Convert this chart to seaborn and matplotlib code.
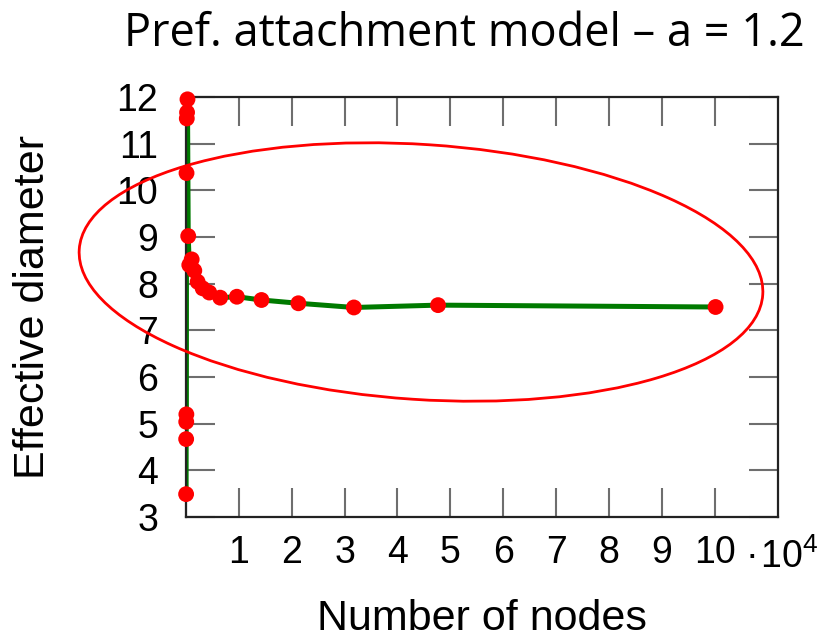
import matplotlib
matplotlib.use("Agg")
import matplotlib.pyplot as plt
from matplotlib.patches import Ellipse
import seaborn as sns
import pandas as pd

# Data
nodes = [20, 30, 45, 70, 100, 150, 200, 280, 420, 620, 1075, 1570, 2200, 3150,
         4400, 6470, 9620, 14280, 21260, 31760, 47680, 100190]
diameter = [3.49, 4.67, 5.04, 5.20, 10.37, 11.54, 11.67, 11.95, 9.02, 8.40, 8.52,
            8.28, 8.04, 7.90, 7.81, 7.70, 7.72, 7.65, 7.58, 7.49, 7.54, 7.50]
x_ticks = [0, 10000, 20000, 30000, 40000, 50000, 60000, 70000, 80000, 90000, 100000]
x_tick_labels = ["", "1", "2", "3", "4", "5", "6", "7", "8", "9", "10"]
y_ticks = [3, 4, 5, 6, 7, 8, 9, 10, 11, 12]

title = "Pref. attachment model \u2013 a = 1.2"
xlabel = "Number of nodes"
ylabel = "Effective diameter"

df = pd.DataFrame({"nodes": nodes, "diameter": diameter})

sns.set_theme(style="white")
plt.rcParams["font.family"] = ["Liberation Sans", "DejaVu Sans"]
plt.rcParams["text.color"] = "black"
plt.rcParams["axes.labelcolor"] = "black"
plt.rcParams["mathtext.fontset"] = "custom"
plt.rcParams["mathtext.rm"] = "Liberation Sans"
plt.rcParams["mathtext.it"] = "Liberation Sans:italic"

fig = plt.figure(figsize=(8.38, 6.43), dpi=100)
ax = fig.add_axes([186 / 838, 1 - 517 / 643, (778 - 186) / 838, (517 - 97) / 643])

sns.lineplot(data=df, x="nodes", y="diameter", sort=False, estimator=None,
             color="#007a00", linewidth=3.6, ax=ax, zorder=2)
sns.scatterplot(data=df, x="nodes", y="diameter", color="#ff0000", s=130,
                edgecolor="none", ax=ax, zorder=3, clip_on=False)

ax.set_xlim(0, 112000)
ax.set_ylim(3, 12)
ax.set_xticks(x_ticks)
ax.set_xticklabels(x_tick_labels)
ax.set_yticks(y_ticks)
ax.set_yticklabels([str(v) for v in y_ticks])
ax.tick_params(axis="both", which="major", direction="in", length=21, width=1.5,
               color="#6e6e6e", labelsize=27, top=True, right=True,
               bottom=True, left=True, labelcolor="black")
ax.tick_params(axis="x", pad=13)
ax.tick_params(axis="y", pad=20)
for s in ax.spines.values():
    s.set_color("#222222")
    s.set_linewidth(1.6)

ax.set_xlabel(xlabel, fontsize=31)
ax.set_ylabel(ylabel, fontsize=31)
ax.xaxis.label.set_va("center")
ax.yaxis.label.set_va("center")
ax.xaxis.set_label_coords(0.5, -0.243)
ax.yaxis.set_label_coords(-0.258, 0.5)

# offset multiplier text "·10^4"
ax.text(105800, 1.91, "\u00b7\u200a10$^{4}$", fontsize=27, ha="left", va="baseline",
        transform=ax.transData)

fig.text(464 / 838, 1 - 34 / 643, title, fontsize=32.5, ha="center", va="center",
         family=["Open Sans", "DejaVu Sans"])

# hand-drawn highlight ellipse
ell = Ellipse((4.21, 6.43 - 2.72), 6.85, 2.55, angle=-3.8, fill=False,
              edgecolor="#ff0000", linewidth=2.0, transform=fig.dpi_scale_trans,
              zorder=10)
fig.add_artist(ell)

fig.savefig("out.png", dpi=100)
